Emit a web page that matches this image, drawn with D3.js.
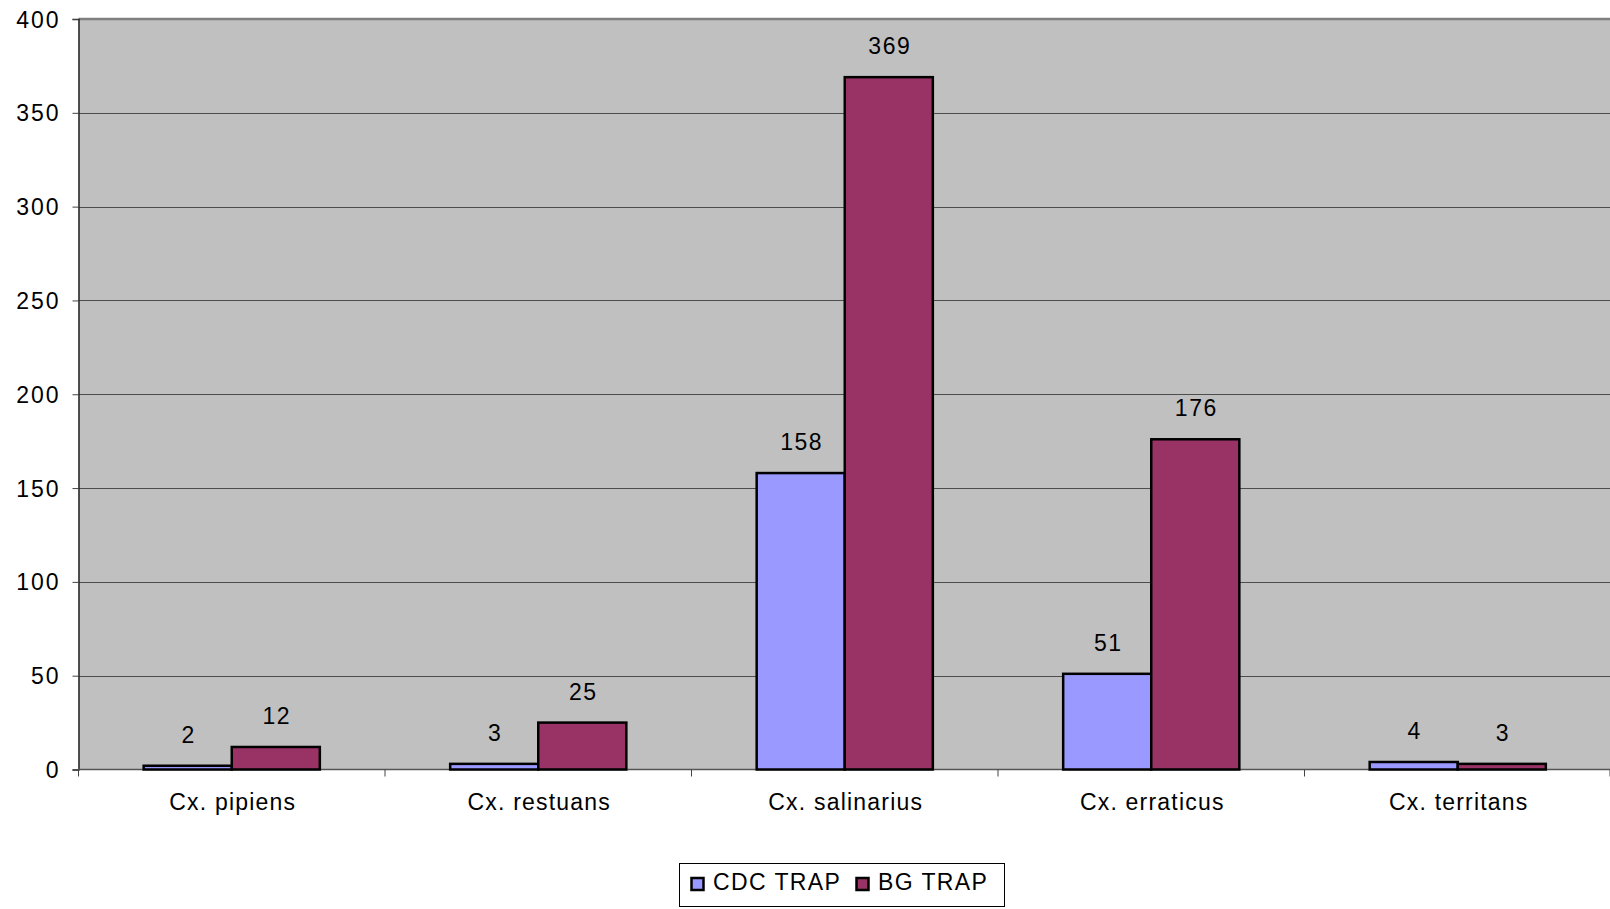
<!DOCTYPE html>
<html>
<head>
<meta charset="utf-8">
<script src="https://cdn.jsdelivr.net/npm/d3@7"></script>
<style>
body { margin: 0; background: #fff; }
text { font-family: "Liberation Sans", Arial, sans-serif; fill: #000; }
</style>
</head>
<body>
<div id="chart"></div>
<script>
var categories = ["Cx. pipiens", "Cx. restuans", "Cx. salinarius", "Cx. erraticus", "Cx. territans"];
var series = ["CDC TRAP", "BG TRAP"];
var cdcValues = [2, 3, 158, 51, 4];
var bgValues = [12, 25, 369, 176, 3];
var yTicks = [0, 50, 100, 150, 200, 250, 300, 350, 400];

var colors = { "CDC TRAP": "#9999ff", "BG TRAP": "#993366" };

var width = 1610, height = 909;
var plotLeft = 78.5, plotRight = 1611, plotTop = 19, plotBottom = 769.5;

var data = categories.map(function(c, i) {
  return { cat: c, values: [
    { key: "CDC TRAP", value: cdcValues[i] },
    { key: "BG TRAP", value: bgValues[i] }
  ] };
});

var svg = d3.select("#chart").append("svg")
  .attr("width", width)
  .attr("height", height);

var x0 = d3.scaleBand().domain(categories).range([plotLeft, plotRight]).padding(0);
var x1 = d3.scaleBand().domain(series).range([0, x0.bandwidth()]).paddingInner(0).paddingOuter(0.74);
var y = d3.scaleLinear().domain([0, 400]).range([plotBottom, plotTop]);

// plot background
svg.append("rect")
  .attr("x", plotLeft).attr("y", plotTop)
  .attr("width", plotRight - plotLeft).attr("height", plotBottom - plotTop)
  .attr("fill", "#c0c0c0");

// gridlines
svg.selectAll(".grid")
  .data(yTicks.filter(function(d) { return d > 0 && d < 400; }))
  .enter().append("line")
  .attr("x1", plotLeft).attr("x2", plotRight)
  .attr("y1", function(d) { return Math.round(y(d)) + 0.5; })
  .attr("y2", function(d) { return Math.round(y(d)) + 0.5; })
  .attr("stroke", "#4d4d4d")
  .attr("stroke-width", 1);

// top border
svg.append("line")
  .attr("x1", plotLeft).attr("x2", plotRight)
  .attr("y1", plotTop).attr("y2", plotTop)
  .attr("stroke", "#808080").attr("stroke-width", 2.5);

// y axis
var yAxis = d3.axisLeft(y).tickValues(yTicks).tickSize(6).tickPadding(12);
var gy = svg.append("g").attr("transform", "translate(" + plotLeft + ",0)").call(yAxis);
gy.select(".domain").attr("stroke", "#222").attr("stroke-width", 1.5);
gy.selectAll(".tick line").attr("stroke", "#444");
gy.selectAll(".tick text")
  .style("font-size", "23px")
  .style("letter-spacing", "2px")
  .style("font-family", "Liberation Sans, Arial, sans-serif")
  .attr("dy", "0.35em");

// x axis ticks at category boundaries
var bounds = categories.map(function(c) { return x0(c); }).concat([plotRight - 1]);
svg.append("line")
  .attr("x1", plotLeft).attr("x2", plotRight)
  .attr("y1", plotBottom).attr("y2", plotBottom)
  .attr("stroke", "#555").attr("stroke-width", 1.5);
svg.selectAll(".xtick")
  .data(bounds)
  .enter().append("line")
  .attr("x1", function(d) { return d; }).attr("x2", function(d) { return d; })
  .attr("y1", plotBottom).attr("y2", plotBottom + 7)
  .attr("stroke", "#444").attr("stroke-width", 1);

svg.selectAll(".xlabel")
  .data(categories)
  .enter().append("text")
  .attr("x", function(d) { return x0(d) + x0.bandwidth() / 2 + 1; })
  .attr("y", 810)
  .attr("text-anchor", "middle")
  .style("font-size", "23px")
  .style("letter-spacing", "1.2px")
  .text(function(d) { return d; });

// bars
var groups = svg.selectAll(".group")
  .data(data)
  .enter().append("g")
  .attr("transform", function(d) { return "translate(" + x0(d.cat) + ",0)"; });

groups.selectAll("rect")
  .data(function(d) { return d.values; })
  .enter().append("rect")
  .attr("x", function(d) { return x1(d.key); })
  .attr("y", function(d) { return y(d.value); })
  .attr("width", x1.bandwidth())
  .attr("height", function(d) { return plotBottom - y(d.value); })
  .attr("fill", function(d) { return colors[d.key]; })
  .attr("stroke", "#000")
  .attr("stroke-width", 2.5);

groups.selectAll(".val")
  .data(function(d) { return d.values; })
  .enter().append("text")
  .attr("x", function(d) { return x1(d.key) + x1.bandwidth() / 2 + 1; })
  .attr("y", function(d) { return y(d.value) - 23; })
  .attr("text-anchor", "middle")
  .style("font-size", "23px")
  .style("letter-spacing", "1.5px")
  .text(function(d) { return d.value; });

// legend
var legend = svg.append("g");
legend.append("rect")
  .attr("x", 679.5).attr("y", 863.5)
  .attr("width", 325).attr("height", 43)
  .attr("fill", "#fff").attr("stroke", "#000").attr("stroke-width", 1);

var legendX = [691, 856];
series.forEach(function(s, i) {
  legend.append("rect")
    .attr("x", legendX[i] + 0.5).attr("y", 878)
    .attr("width", 12).attr("height", 12)
    .attr("fill", colors[s]).attr("stroke", "#000").attr("stroke-width", 2.5);
  legend.append("text")
    .attr("x", legendX[i] + 22).attr("y", 890)
    .style("font-size", "23px")
    .style("letter-spacing", "1.4px")
    .text(s);
});
</script>
</body>
</html>
